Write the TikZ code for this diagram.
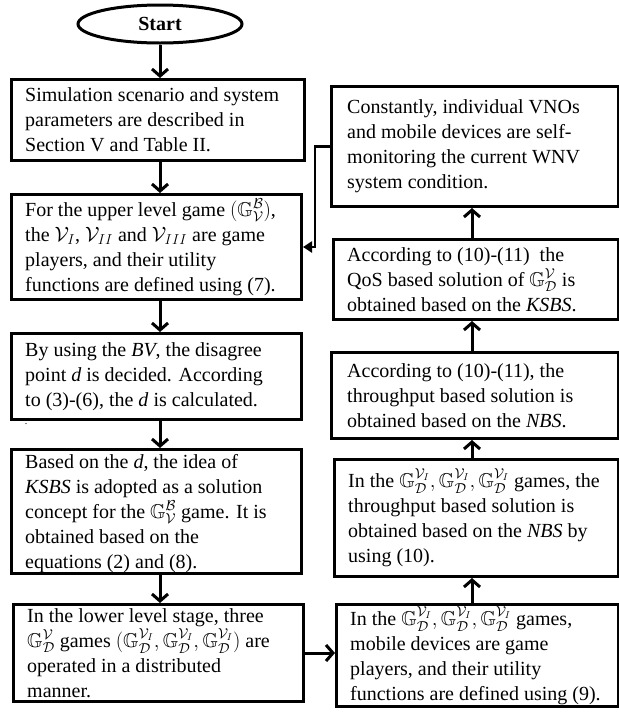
\documentclass[tikz,border=0pt]{standalone}
\usepackage{amssymb}
\usepackage{fontspec}
\setmainfont{Liberation Serif}
\usetikzlibrary{arrows.meta,shapes.geometric}
\newcommand{\GG}[2]{\mathbb{G}^{#1}_{#2}}
\newcommand{\GVI}{\GG{\mathcal{V}_I}{\mathcal{D}}}
\setlength{\lineskiplimit}{-30pt}
\begin{document}
\begin{tikzpicture}[x=1pt,y=-1pt,
  box/.style={draw, line width=3pt, anchor=north west, inner sep=0pt},
  txt/.style={anchor=west, align=left, inner sep=0pt,
    font={\fontsize{20}{25}\selectfont}},
  flow/.style={line width=3pt, -{Straight Barb[length=7pt,width=16pt]}},
  back/.style={line width=2.4pt, -{Triangle[length=9pt,width=11pt]}}]
\useasboundingbox (0,0) rectangle (619,713);
\coordinate (xl) at (160,0);
\coordinate (xr) at (472,0);
% start
\node[draw, ellipse, line width=3pt, minimum width=164pt, minimum height=38pt,
  font={\fontsize{20}{24}\selectfont\bfseries}] (start) at (160,24) {Start};
% left column
\node[box, minimum width=293pt, minimum height=81pt] (b1) at (10,78) {};
\node[txt] (t1) at ([xshift=15pt]b1.west)
 {Simulation scenario and system\\ parameters are described in\\ Section V and Table II.};
\node[box, minimum width=290pt, minimum height=105pt] (b2) at (10,193) {};
\node[txt] (t2) at ([xshift=15pt]b2.west)
 {For the upper level game $\big(\GG{\mathcal{B}}{\mathcal{V}}\big)$,\\
  the $\mathcal{V}_I$, $\mathcal{V}_{II}$ and $\mathcal{V}_{III}$ are game\\
  players, and their utility\\ functions are defined using (7).};
\node[box, minimum width=290pt, minimum height=86pt] (b3) at (10,332) {};
\node[txt] (t3) at ([xshift=15pt]b3.west)
 {By using the \textit{BV}, the disagree\\ point \textit{d} is decided. According\\
  to (3)-(6), the \textit{d} is calculated.};
\node[font={\fontsize{10}{12}\selectfont}, inner sep=0pt] (dot) at (26,424) {.};
\node[box, minimum width=290pt, minimum height=124pt] (b4) at (10,448) {};
\node[txt] (t4) at ([xshift=15pt,yshift=-2pt]b4.west)
 {Based on the \textit{d}, the idea of\\ \textit{KSBS} is adopted as a solution\\
  concept for the $\GG{\mathcal{B}}{\mathcal{V}}$ game. It is\\ obtained based on the\\
  equations (2) and (8).};
\node[box, minimum width=290pt, minimum height=97pt] (b5) at (12,603) {};
\node[txt] (t5) at ([xshift=15pt]b5.west)
 {In the lower level stage, three\\
  $\GG{\mathcal{V}}{\mathcal{D}}$ games $\big(\GVI, \GVI, \GVI\big)$ are\\
  operated in a distributed\\ manner.};
% right column
\node[box, minimum width=287pt, minimum height=120pt] (r1) at (330,85) {};
\node[txt] (s1) at ([xshift=17pt]r1.west)
 {Constantly, individual VNOs\\ and mobile devices are self-\\ monitoring the current WNV\\ system condition.};
\node[box, minimum width=285pt, minimum height=80pt] (r2) at (332,238) {};
\node[txt] (s2) at ([xshift=15pt]r2.west)
 {According to (10)-(11)~ the\\ QoS based solution of $\GG{\mathcal{V}}{\mathcal{D}}$ is\\
  obtained based on the \textit{KSBS}.};
\node[box, minimum width=287pt, minimum height=86pt] (r3) at (330,351) {};
\node[txt] (s3) at ([xshift=17pt]r3.west)
 {According to (10)-(11), the\\ throughput based solution is\\ obtained based on the \textit{NBS}.};
\node[box, minimum width=284pt, minimum height=117pt] (r4) at (333,458) {};
\node[txt] (s4) at ([xshift=15pt]r4.west)
 {In the $\GVI, \GVI, \GVI$ games, the\\ throughput based solution is\\
  obtained based on the \textit{NBS} by\\ using (10).};
\node[box, minimum width=282pt, minimum height=102pt] (r5) at (335,603) {};
\node[txt] (s5) at ([xshift=15pt]r5.west)
 {In the $\GVI, \GVI, \GVI$ games,\\ mobile devices are game\\ players, and their utility\\
  functions are defined using (9).};
% connectors
\draw[flow] (start.south) -- (start.south |- b1.north);
\draw[flow] (b1.south -| xl) -- (b2.north -| xl);
\draw[flow] (b2.south -| xl) -- (b3.north -| xl);
\draw[flow] (b3.south -| xl) -- (b4.north -| xl);
\draw[flow] (b4.south -| xl) -- (b5.north -| xl);
\draw[flow] (b5.east) -- (b5.east -| r5.west);
\draw[flow] (r5.north -| xr) -- (r4.south -| xr);
\draw[flow] (r4.north -| xr) -- (r3.south -| xr);
\draw[flow] (r3.north -| xr) -- (r2.south -| xr);
\draw[flow] (r2.north -| xr) -- (r1.south -| xr);
\draw[back] (r1.west) -- ++(-15,0) |- (b2.east);
\end{tikzpicture}
\end{document}
